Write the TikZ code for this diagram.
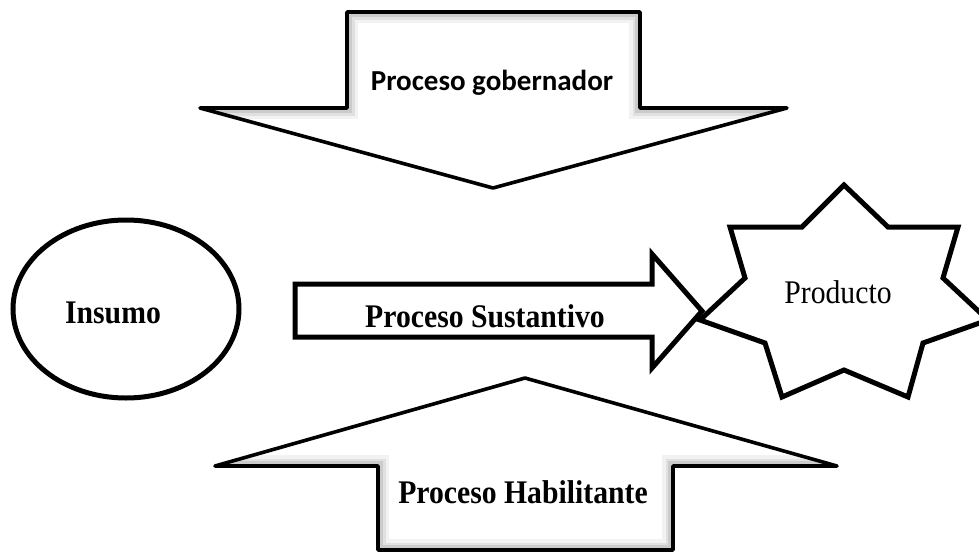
\documentclass[tikz,border=0pt]{standalone}
\usepackage{fontspec}
\newfontfamily\tnrfont[FakeStretch=0.9]{Liberation Serif}
\newfontfamily\calfont{Carlito}
\begin{document}
\begin{tikzpicture}[x=1pt,y=-1pt,
  softline/.style={draw=black,line width=3.6pt,line join=round},
  hardline/.style={draw=black,line width=5pt,line join=miter},
  glow/.style={draw=black,opacity=#1,line join=miter},
  serifbig/.style={font=\tnrfont\bfseries\fontsize{33}{38}\selectfont,inner sep=0pt,anchor=base},
  serifplain/.style={font=\tnrfont\fontsize{33}{38}\selectfont,inner sep=0pt,anchor=base},
  sanslabel/.style={font=\calfont\bfseries\fontsize{29}{34}\selectfont,inner sep=0pt,anchor=base}]
\useasboundingbox (0,0) rectangle (979,552);
\fill[white] (0,0) rectangle (979,552);

% governing process: downward block arrow, soft shading inside the shaft and shoulders
\fill[white] (347,12) -- (640,12) -- (640,108) -- (787,108) -- (493,188) -- (200,108) -- (347,108) -- cycle;
\begin{scope}
  \clip (347,12) -- (640,12) -- (640,108) -- (787,108) -- (493,188) -- (200,108) -- (347,108) -- cycle;
  \foreach \w/\o in {22/0.05,15/0.07,10/0.09} {
    \draw[glow=\o,line width=\w pt] (200,108) -- (347,108) -- (347,12) -- (640,12) -- (640,108) -- (787,108);
  }
\end{scope}
\draw[softline] (347,12) -- (640,12) -- (640,108) -- (787,108) -- (493,188) -- (200,108) -- (347,108) -- cycle;
\node[sanslabel] (gov) at (492,90) {Proceso gobernador};

% enabling process: upward block arrow, soft shading inside the shaft and shoulders
\fill[white] (525,378) -- (837,466) -- (673,466) -- (673,550) -- (378,550) -- (378,466) -- (215,466) -- cycle;
\begin{scope}
  \clip (525,378) -- (837,466) -- (673,466) -- (673,550) -- (378,550) -- (378,466) -- (215,466) -- cycle;
  \foreach \w/\o in {22/0.05,15/0.07,10/0.09} {
    \draw[glow=\o,line width=\w pt] (837,466) -- (673,466) -- (673,550) -- (378,550) -- (378,466) -- (215,466);
  }
\end{scope}
\draw[softline] (525,378) -- (837,466) -- (673,466) -- (673,550) -- (378,550) -- (378,466) -- (215,466) -- cycle;
\node[serifbig] (hab) at (523,503) {Proceso Habilitante};

% input
\draw[hardline,fill=white] (126,309) ellipse [x radius=113, y radius=89];
\node[serifbig] (insumo) at (113,323) {Insumo};

% core process: horizontal block arrow
\draw[hardline,fill=white] (295,284) -- (652,284) -- (652,254) -- (702,311) -- (652,368) -- (652,337) -- (295,337) -- cycle;
\node[serifbig] (sust) at (485,327) {Proceso Sustantivo};

% product: seven-pointed star
\draw[hardline,fill=white] (844,185) -- (888,227) -- (958,227) -- (943,278) -- (988,320) -- (923,343) -- (908,397) -- (844,370) -- (782,397) -- (765,343) -- (700,320) -- (745,278) -- (730,227) -- (802,227) -- cycle;
\node[serifplain] (prod) at (838,303) {Producto};
\end{tikzpicture}
\end{document}
